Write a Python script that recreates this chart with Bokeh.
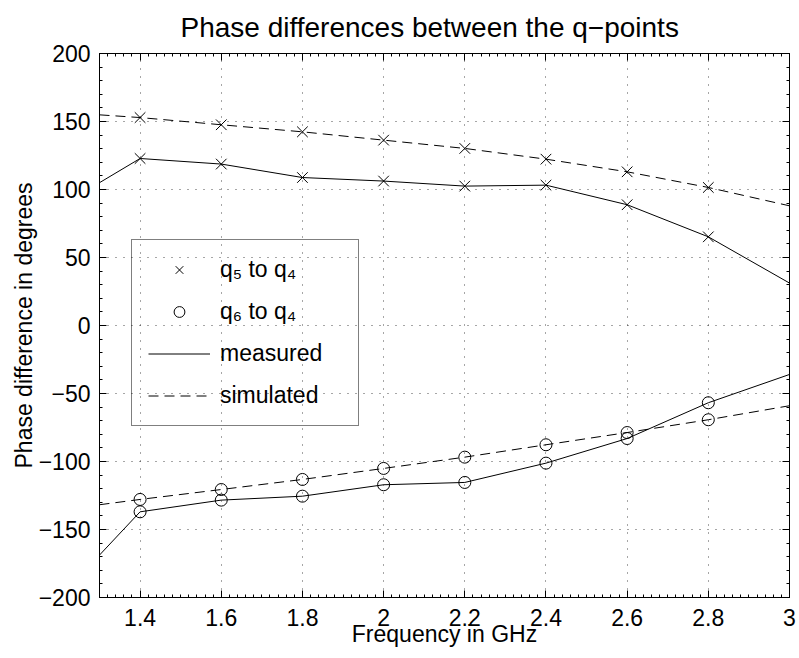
import numpy as np
from bokeh.plotting import figure
from bokeh.models import (Range1d, FixedTicker, LinearAxis, Legend, LegendItem,
                          CustomLabelingPolicy)
from bokeh.embed import file_html
from bokeh.resources import INLINE

# ---------------- data ----------------
freq = [1.3, 1.4, 1.6, 1.8, 2.0, 2.2, 2.4, 2.6, 2.8, 3.0]
q5_measured = [105.0, 122.8, 118.7, 108.8, 106.2, 102.5, 103.2, 88.8, 65.2, 31.2]
q5_simulated = [154.9, 152.9, 147.6, 142.4, 136.3, 130.2, 122.3, 113.0, 101.5, 88.0]
q6_measured = [-168.8, -137.0, -128.4, -125.5, -117.1, -115.4, -101.2, -83.1, -56.8, -36.0]
q6_simulated = [-131.8, -127.9, -120.6, -113.2, -105.1, -96.8, -87.7, -78.7, -69.3, -59.0]

x_ticks = [1.4, 1.6, 1.8, 2.0, 2.2, 2.4, 2.6, 2.8, 3.0]
x_tick_labels = ["1.4", "1.6", "1.8", "2", "2.2", "2.4", "2.6", "2.8", "3"]
y_ticks = [-200, -150, -100, -50, 0, 50, 100, 150, 200]
y_tick_labels = ["\u2212200", "\u2212150", "\u2212100", "\u221250", "0", "50", "100", "150", "200"]

title_text = "Phase differences between the q\u2212points"
x_label = "Frequency in GHz"
y_label = "Phase difference in degrees"
legend_labels = ["q\u2085 to q\u2084", "q\u2086 to q\u2084", "measured", "simulated"]

FONT = "Liberation Sans"
FS = "23px"

p = figure(frame_width=690, frame_height=544, output_backend="svg", toolbar_location=None,
           x_range=Range1d(1.3, 3.0), y_range=Range1d(-200, 200),
           min_border_left=99, min_border_right=10, min_border_top=53, min_border_bottom=58,
           background_fill_color="white", border_fill_color="white")

p.title.text = title_text
p.title.align = "left"
p.title.vertical_align = "top"
p.title.text_font = FONT
p.title.text_font_size = "28px"
p.title.text_font_style = "normal"
p.title.text_color = "black"
p.title.standoff = 18
p.title.offset = 81

p.outline_line_color = "black"
p.outline_line_width = 1

x_minor = list(np.round(np.arange(1.3, 3.0001, 0.02), 4))
y_minor = list(np.arange(-200, 201, 10))
xt = FixedTicker(ticks=x_ticks, minor_ticks=x_minor)
yt = FixedTicker(ticks=y_ticks, minor_ticks=y_minor)

def style_axis(ax, ticker, labels, show_labels):
    ax.ticker = ticker
    ax.axis_line_color = "black"
    ax.major_tick_in = 7
    ax.major_tick_out = 0
    ax.minor_tick_in = 3
    ax.minor_tick_out = 0
    ax.major_tick_line_color = "black"
    ax.minor_tick_line_color = "black"
    ax.major_label_text_font = FONT
    ax.major_label_text_color = "black"
    ax.axis_label_text_font = FONT
    ax.axis_label_text_font_size = FS
    ax.axis_label_text_font_style = "normal"
    ax.axis_label_text_color = "black"
    if show_labels:
        ax.major_label_text_font_size = FS
        ax.major_label_overrides = {t: l for t, l in zip(ticker.ticks, labels)}
    else:
        ax.major_label_text_font_size = "0px"
        ax.major_label_standoff = 0
        ax.major_label_policy = CustomLabelingPolicy(code="return []")

xa = p.xaxis[0]
ya = p.yaxis[0]
style_axis(xa, xt, x_tick_labels, True)
style_axis(ya, yt, y_tick_labels, True)
xa.axis_label = x_label
ya.axis_label = y_label
xa.major_label_standoff = 11
ya.major_label_standoff = 9
xa.axis_label_standoff = -8
ya.axis_label_standoff = -1

top_ax = LinearAxis()
right_ax = LinearAxis()
style_axis(top_ax, FixedTicker(ticks=x_ticks, minor_ticks=x_minor), x_tick_labels, False)
style_axis(right_ax, FixedTicker(ticks=y_ticks, minor_ticks=y_minor), y_tick_labels, False)
p.add_layout(top_ax, "above")
p.add_layout(right_ax, "right")

for g in (p.xgrid[0], p.ygrid[0]):
    g.grid_line_color = "#222222"
    g.grid_line_alpha = 0.8
    g.grid_line_dash = "1 7"
    g.grid_line_width = 1
p.xgrid[0].ticker = xt
p.ygrid[0].ticker = yt

DASH = "10 6"
r_q5m = p.line(freq, q5_measured, line_color="black", line_width=1)
r_q5s = p.line(freq, q5_simulated, line_color="black", line_width=1, line_dash=DASH)
r_q6m = p.line(freq, q6_measured, line_color="black", line_width=1)
r_q6s = p.line(freq, q6_simulated, line_color="black", line_width=1, line_dash=DASH)

mf = freq[1:-1]
r_x1 = p.scatter(mf, q5_measured[1:-1], marker="x", size=15, line_color="black", line_width=1)
r_x2 = p.scatter(mf, q5_simulated[1:-1], marker="x", size=15, line_color="black", line_width=1)
r_o1 = p.scatter(mf, q6_measured[1:-1], marker="circle", size=12, line_color="black",
                 fill_color=None, line_width=1)
r_o2 = p.scatter(mf, q6_simulated[1:-1], marker="circle", size=12, line_color="black",
                 fill_color=None, line_width=1)

legend = Legend(items=[
    LegendItem(label=legend_labels[0], renderers=[r_x1]),
    LegendItem(label=legend_labels[1], renderers=[r_o1]),
    LegendItem(label=legend_labels[2], renderers=[r_q5m]),
    LegendItem(label=legend_labels[3], renderers=[r_q5s]),
], location=(32, 171))
legend.label_text_font = FONT
legend.label_text_font_size = FS
legend.label_text_color = "black"
legend.border_line_color = "black"
legend.border_line_width = 1
legend.background_fill_alpha = 0
legend.padding = 16
legend.spacing = 15
legend.label_height = 27
legend.glyph_height = 27
legend.glyph_width = 62
legend.label_standoff = 10
legend.label_width = 122
legend.margin = 0
p.add_layout(legend, "center")

open("out.html", "w").write(file_html(p, INLINE))
